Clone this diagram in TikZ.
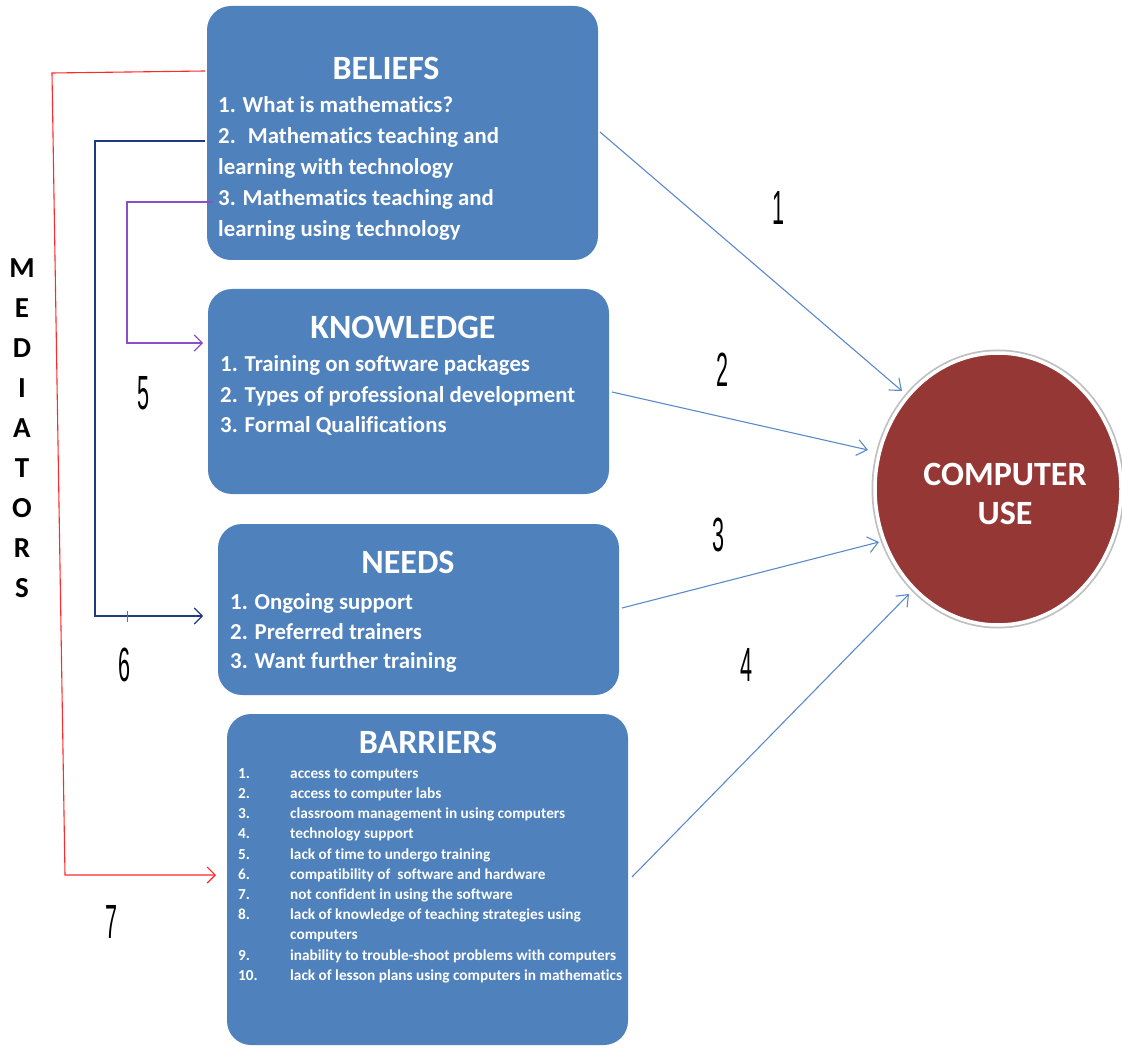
\documentclass[tikz,border=0pt]{standalone}
\usepackage{fontspec}
\usepackage{graphicx}
\setmainfont{Carlito}[Ligatures=NoCommon]
\newfontfamily\numfont{Liberation Sans}
\usetikzlibrary{arrows.meta,shapes.geometric}

\definecolor{boxblue}{HTML}{4F81BD}
\definecolor{arrowblue}{HTML}{5A8ACB}
\definecolor{discred}{HTML}{953735}
\definecolor{linkred}{HTML}{FF2A2A}
\definecolor{linknavy}{HTML}{1F3A80}
\definecolor{linkpurple}{HTML}{8A4FC8}
\definecolor{tickgreen}{HTML}{1AA050}

\tikzset{
  panel/.style={fill=boxblue, draw=none, rounded corners=24pt, inner sep=0pt},
  title/.style={text=white, inner sep=0pt, font=\bfseries\fontsize{34}{36}\selectfont},
  item/.style={text=white, inner sep=0pt, anchor=mid west, font=\bfseries\fontsize{22.8}{26}\selectfont},
  bnum/.style={text=white, inner sep=0pt, anchor=mid west, font=\bfseries\fontsize{15.3}{17}\selectfont},
  bitem/.style={text=white, inner sep=0pt, anchor=mid west, font=\bfseries\fontsize{15.3}{17}\selectfont},
  pathno/.style={inner sep=0pt, font=\numfont\fontsize{48}{50}\selectfont},
  vletter/.style={inner sep=0pt, font=\bfseries\fontsize{29}{30}\selectfont},
  effect/.style={draw=arrowblue, line width=1.1pt, -{Straight Barb[length=10pt, width=16pt, line width=1.1pt]}},
  mediate/.style={line width=1.1pt, -{Straight Barb[length=8pt, width=16pt, line width=1.1pt]}},
}

\newcommand{\narrow}[1]{\scalebox{0.45}[1]{#1}}

\begin{document}
\begin{tikzpicture}[x=1pt, y=-1pt]
\useasboundingbox (0,0) rectangle (1122,1048);

% ---- the four factor panels ----
\node[panel, minimum width=391pt, minimum height=254pt] (bel) at (402.5,133) {};
\node[panel, minimum width=401pt, minimum height=205pt] (kno) at (408.5,391.5) {};
\node[panel, minimum width=401pt, minimum height=171pt] (nee) at (418.5,609.5) {};
\node[panel, minimum width=401pt, minimum height=331pt] (bar) at (427.5,879.5) {};

% BELIEFS
\node[title] (belT) at (386,68) {BELIEFS};
\node[item] (bel1) at (218,110) {1. What is mathematics?};
\node[item] (bel2) at (218,141) {2.~ Mathematics teaching and};
\node[item] (bel3) at (218,172) {learning with technology};
\node[item] (bel4) at (218,203) {3. Mathematics teaching and};
\node[item] (bel5) at (218,234) {learning using technology};

% KNOWLEDGE
\node[title] (knoT) at (403,327) {KNOWLEDGE};
\node[item] (kno1) at (220,369) {1. Training on software packages};
\node[item] (kno2) at (220,400) {2. Types of professional development};
\node[item] (kno3) at (220,430) {3. Formal Qualifications};

% NEEDS
\node[title] (neeT) at (408,562) {NEEDS};
\node[item] (nee1) at (230,607) {1. Ongoing support};
\node[item] (nee2) at (230,637) {2. Preferred trainers};
\node[item] (nee3) at (230,666) {3. Want further training};

% BARRIERS
\node[title] (barT) at (428,742) {BARRIERS};
\foreach \n/\t/\yy [count=\i] in {
  1./access to computers/776,
  2./access to computer labs/796.2,
  3./classroom management in using computers/816.4,
  4./technology support/836.6,
  5./lack of time to undergo training/856.8,
  6./compatibility of~ software and hardware/877,
  7./not confident in using the software/897.2,
  8./lack of knowledge of teaching strategies using/917.4,
  {}/computers/937.6,
  9./inability to trouble-shoot problems with computers/957.8,
  10./lack of lesson plans using computers in mathematics/978}{
  \node[bnum] (bn\i) at (238,\yy) {\n};
  \node[bitem] (bt\i) at (290,\yy) {\t};
}

% ---- outcome ----
\node[ellipse, draw=black!25, line width=6pt, minimum width=247pt, minimum height=273pt, inner sep=0pt] (useS) at (998,489) {};
\node[ellipse, fill=discred, draw=white, line width=3.5pt, minimum width=246pt, minimum height=272pt, inner sep=0pt] (use) at (998,489) {};
\node[title, text=white] (use1) at (1005,474) {COMPUTER};
\node[title, text=white] (use2) at (1005,513) {USE};

% ---- direct effects ----
\coordinate (e1s) at (600,132);
\coordinate (e1t) at (902,391);
\coordinate (e2s) at (612,392);
\coordinate (e2t) at (868,450);
\coordinate (e3s) at (622,608);
\coordinate (e3t) at (879,542);
\coordinate (e4s) at (632,877);
\coordinate (e4t) at (909,594);
\draw[effect] (e1s) -- (e1t);
\draw[effect] (e2s) -- (e2t);
\draw[effect] (e3s) -- (e3t);
\draw[effect] (e4s) -- (e4t);

\node[pathno] (p1) at (778,208) {\narrow{1}};
\node[pathno] (p2) at (722,370) {\narrow{2}};
\node[pathno] (p3) at (718,535) {\narrow{3}};
\node[pathno] (p4) at (746,665) {\narrow{4}};

% ---- mediating paths from BELIEFS ----
\coordinate (m7a) at (205,71);
\coordinate (m7b) at (52,73);
\coordinate (m7c) at (65,875);
\coordinate (m7d) at (216,875);
\draw[mediate, draw=linkred] (m7a) -- (m7b) -- (m7c) -- (m7d);

\coordinate (m6a) at (205,141);
\coordinate (m6b) at (95,141);
\coordinate (m6c) at (95,616);
\coordinate (m6d) at (203,616);
\draw[mediate, draw=linknavy] (m6a) -- (m6b) -- (m6c) -- (m6d);
\coordinate (tk1) at (127,611);
\coordinate (tk2) at (127,622);
\draw[tickgreen, line width=1pt] (tk1) -- (tk2);

\coordinate (m5a) at (213,202);
\coordinate (m5b) at (127,202);
\coordinate (m5c) at (127,343);
\coordinate (m5d) at (203,343);
\draw[mediate, draw=linkpurple] (m5a) -- (m5b) -- (m5c) -- (m5d);

\node[pathno] (p5) at (144,393) {\narrow{5}};
\node[pathno] (p6) at (125,665) {\narrow{6}};
\node[pathno] (p7) at (112,922) {\narrow{7}};

% ---- vertical label ----
\foreach \L/\yy [count=\i] in {M/268,E/308,D/348,I/388,A/428,T/468,O/508,R/548,S/588}{
  \node[vletter] (v\i) at (22,\yy) {\L};
}
\end{tikzpicture}
\end{document}
